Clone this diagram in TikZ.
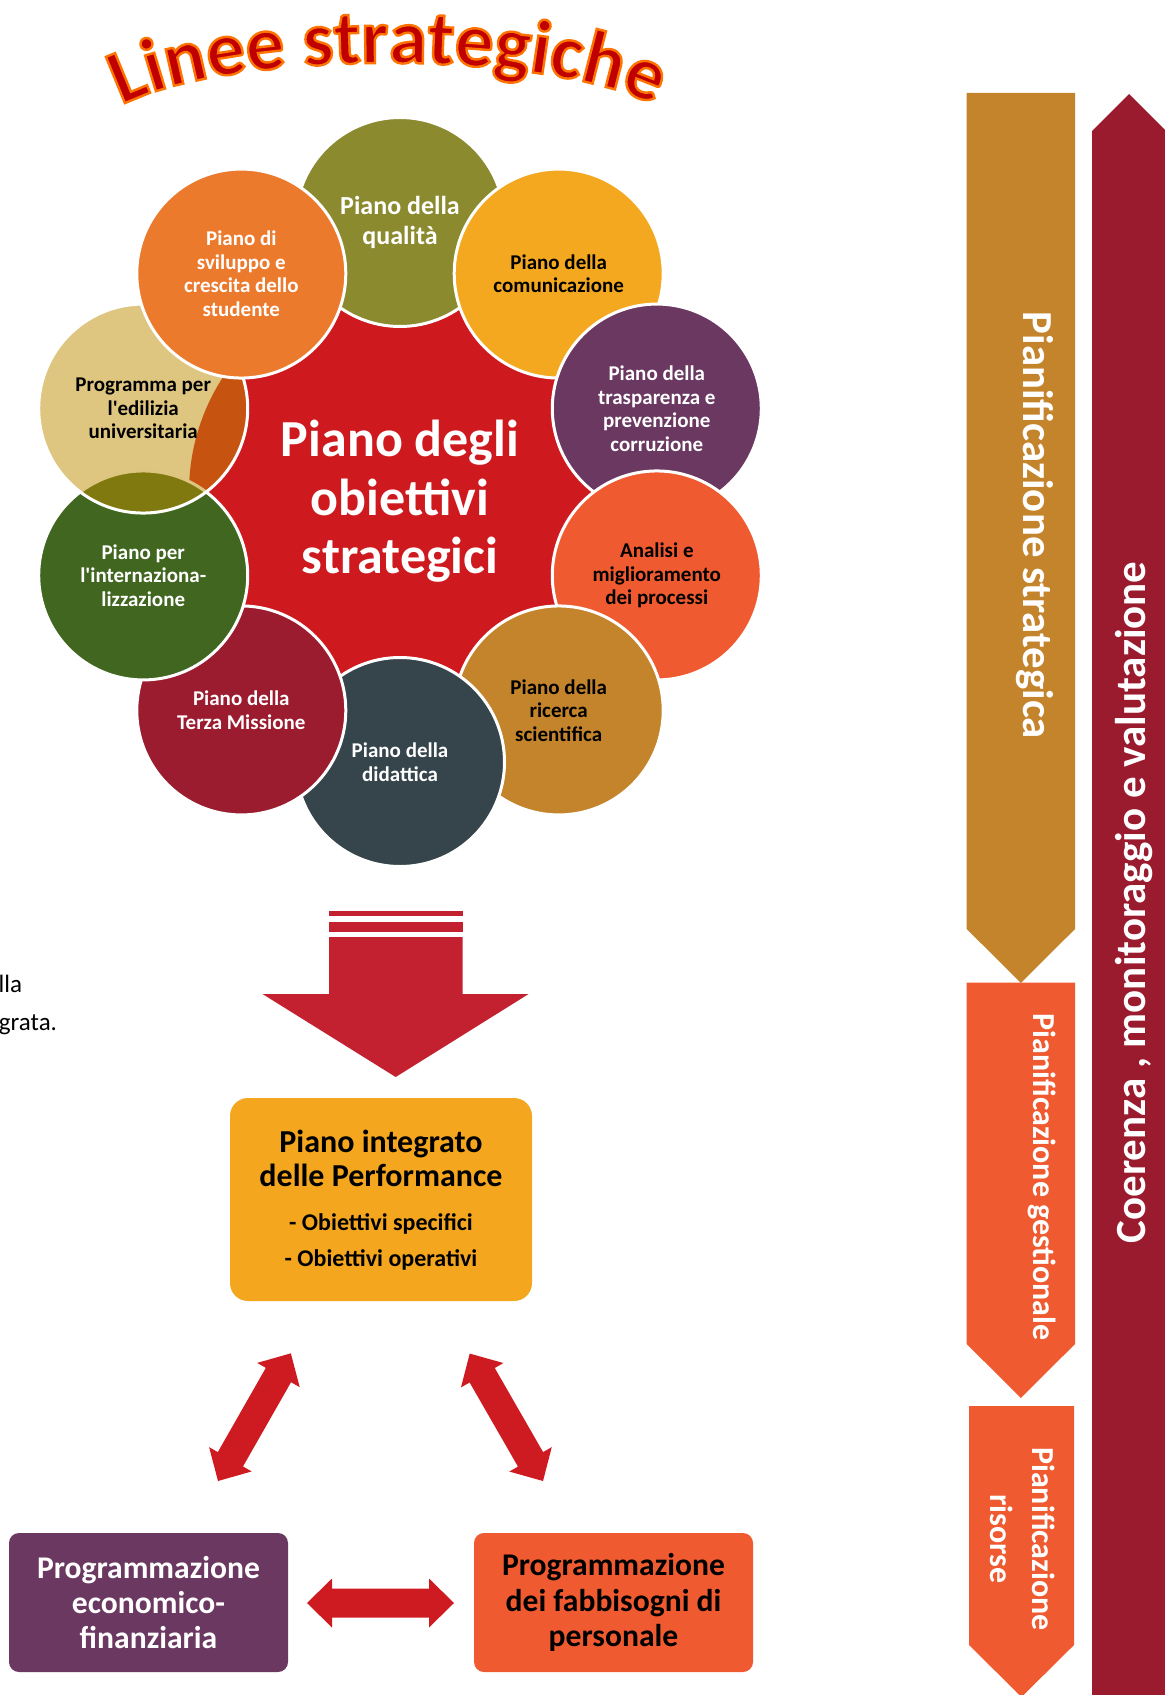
\documentclass[tikz,border=0pt]{standalone}
\usepackage{fontspec}
\setmainfont{Carlito}[Ligatures=TeXOff]
\usetikzlibrary{decorations.text}
\definecolor{cred}{HTML}{CE1A1F}
\definecolor{colive}{HTML}{8B8A2E}
\definecolor{corange}{HTML}{EC7A2D}
\definecolor{camber}{HTML}{F4A81F}
\definecolor{cpurple}{HTML}{6A3860}
\definecolor{cvermil}{HTML}{F05A30}
\definecolor{cochre}{HTML}{C4842C}
\definecolor{cslate}{HTML}{36444B}
\definecolor{ccrimson}{HTML}{9B1B2F}
\definecolor{cgreen}{HTML}{40661F}
\definecolor{cgold}{RGB}{191,141,1}
\definecolor{carrow}{HTML}{C32130}
\definecolor{carrowb}{HTML}{CE1A21}
\definecolor{cbox}{HTML}{F4A71E}
\definecolor{cmaroon}{HTML}{9A1A2E}
\definecolor{ctitle}{HTML}{C00000}
\newcommand\titlefmt{\bfseries\fontsize{38.5}{40}\selectfont}
\newcommand\titleoutline{\special{pdf:literal direct 2 Tr 1 0.45 0 RG 1.2 w}}
\begin{document}
\begin{tikzpicture}[x=0.5pt,y=0.5pt,
  every node/.style={inner sep=0pt, outer sep=0pt},
  petal/.style={circle, draw=white, line width=1.5pt, minimum size=104.5pt,
    align=center, font=\bfseries\fontsize{10.5}{11.75}\selectfont},
  rbox/.style={rounded corners=5pt, minimum width=139.5pt, minimum height=69.5pt,
    align=center, font=\bfseries\fontsize{15.8}{17.6}\selectfont},
  sidetext/.style={text=white, anchor=base},
  dblarrow/.pic={\fill[carrowb] (0,0) -- (25,24.5) -- (25,14.5) -- (122,14.5) -- (122,24.5)
    -- (147,0) -- (122,-24.5) -- (122,-14.5) -- (25,-14.5) -- (25,-24.5) -- cycle;}
]
\useasboundingbox (0,0) rectangle (1164,-1695);

% ---- title: dark red text with orange outline along an arch
\path[decorate, decoration={text along path, text={|\titlefmt\titleoutline|Linee strategiche}, text align=center, text color=ctitle}]
  (110.8,-111.7) arc[start angle=160, end angle=20, x radius=295, y radius=74];

% ---- flower
\node[circle, fill=cred, minimum size=211pt] (core) at (400,-492) {};
\begin{scope}[shift={(400,-492)}]
\node[petal, fill=colive, text=white, font=\bfseries\fontsize{13}{15}\selectfont] (qual) at (90:270) {Piano della\\qualità};
\node[petal, fill=camber, text=black] (comu) at (54:270) {Piano della\\comunicazione};
\node[petal, fill=cpurple, text=white] (trasp) at (18:270) {Piano della\\trasparenza e\\prevenzione\\corruzione};
\node[petal, fill=cvermil, text=black] (anal) at (-18:270) {Analisi e\\miglioramento\\dei processi};
\node[petal, fill=cochre, text=black] (ricer) at (-54:270) {Piano della\\ricerca\\scientifica};
\node[petal, fill=cslate, text=white] (didat) at (-90:270) {Piano della\\didattica};
\node[petal, fill=ccrimson, text=white] (terza) at (-126:270) {Piano della\\Terza Missione};
\node[petal, fill=cgreen, text=white] (inter) at (-162:270) {Piano per\\l'internaziona-\\lizzazione};
\node[petal, fill=cgold, fill opacity=0.5, draw opacity=1, text opacity=1, text=black] (edil) at (162:270) {Programma per\\l'edilizia\\universitaria};
\node[petal, fill=corange, text=white] (svil) at (126:270) {Piano di\\sviluppo e\\crescita dello\\studente};
\end{scope}
\node[sidetext, font=\bfseries\fontsize{26}{29}\selectfont] (core1) at (400,-456.7) {Piano degli};
\node[sidetext, font=\bfseries\fontsize{26}{29}\selectfont] (core2) at (400,-515) {obiettivi};
\node[sidetext, font=\bfseries\fontsize{26}{29}\selectfont] (core3) at (400,-573) {strategici};

% ---- big down arrow
\fill[carrow] (329,-911) rectangle (462.5,-916);
\fill[carrow] (329,-922) rectangle (462.5,-932);
\fill[carrow] (329,-937) -- (462.5,-937) -- (462.5,-994) -- (528.6,-994) -- (395.7,-1077)
  -- (262.5,-994) -- (329,-994) -- cycle;

% ---- text fragments at the left edge
\node[anchor=base east, font=\fontsize{12.5}{15}\selectfont] (frag1) at (22,-992.7) {lla};
\node[anchor=base east, font=\fontsize{12.5}{15}\selectfont] (frag2) at (57,-1030) {grata.};

% ---- Piano integrato box
\node[rounded corners=9pt, fill=cbox, minimum width=151pt, minimum height=101.5pt] (pib) at (381,-1199.5) {};
\node[anchor=base, font=\bfseries\fontsize{16}{18}\selectfont] (pib1) at (381,-1152) {Piano integrato};
\node[anchor=base, font=\bfseries\fontsize{16}{18}\selectfont] (pib2) at (381,-1186.7) {delle Performance};
\node[anchor=base, font=\bfseries\fontsize{12}{14}\selectfont] (pib3) at (381,-1230.7) {- Obiettivi specifici};
\node[anchor=base, font=\bfseries\fontsize{12}{14}\selectfont] (pib4) at (381,-1266.7) {- Obiettivi operativi};

% ---- bottom boxes
\node[rbox, fill=cpurple, text=white] (pef) at (148.5,-1602.5) {Programmazione\\economico-\\finanziaria};
\node[rbox, fill=cvermil, text=black] (pfp) at (613.5,-1602.5) {Programmazione\\dei fabbisogni di\\personale};

% ---- double arrows
\coordinate (da1) at (218,-1481);
\coordinate (da2) at (543,-1481);
\coordinate (da3) at (307,-1603);
\pic[rotate=60.3] at (da1) {dblarrow};
\pic[rotate=119.9] at (da2) {dblarrow};
\pic at (da3) {dblarrow};

% ---- right side chevrons
\fill[cochre] (966.7,-93) -- (1075,-93) -- (1075,-929) -- (1020.85,-983) -- (966.7,-929) -- cycle;
\fill[cvermil] (966.7,-982.5) -- (1075,-982.5) -- (1075,-1344) -- (1020.85,-1398) -- (966.7,-1344) -- cycle;
\fill[cvermil] (969,-1406) -- (1074,-1406) -- (1074,-1645) -- (1021.5,-1697) -- (969,-1645) -- cycle;
\fill[cmaroon] (1092,-1700) -- (1092,-131) -- (1129,-94) -- (1166,-131) -- (1166,-1700) -- cycle;

\node[sidetext, rotate=-90, font=\bfseries\fontsize{21.4}{24}\selectfont] (pstrat) at (1023,-525.5) {Pianificazione strategica};
\node[sidetext, rotate=-90, font=\bfseries\fontsize{16}{18}\selectfont] (pgest) at (1033,-1177) {Pianificazione gestionale};
\node[sidetext, rotate=-90, font=\bfseries\fontsize{16}{18}\selectfont] (pris1) at (1032,-1539) {Pianificazione};
\node[sidetext, rotate=-90, font=\bfseries\fontsize{16}{18}\selectfont] (pris2) at (990,-1539) {risorse};
\node[sidetext, rotate=90, font=\bfseries\fontsize{21.5}{24}\selectfont] (coer) at (1145,-902.5) {Coerenza , monitoraggio e valutazione};
\end{tikzpicture}
\end{document}
